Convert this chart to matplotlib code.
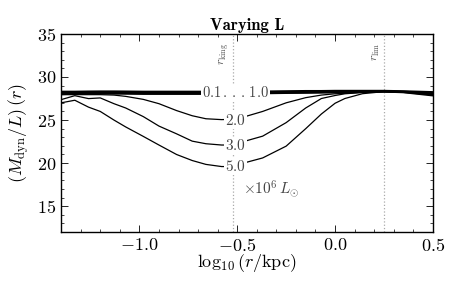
import numpy as np
import matplotlib
matplotlib.use("Agg")
import matplotlib.pyplot as plt
from matplotlib.ticker import MultipleLocator

plt.rcParams["font.family"] = "serif"
plt.rcParams["font.serif"] = ["cmr10", "DejaVu Serif"]
plt.rcParams["mathtext.fontset"] = "cm"
plt.rcParams["axes.formatter.use_mathtext"] = True
plt.rcParams["axes.unicode_minus"] = True

# log10(r/kpc) grid
log_r = [-1.4, -1.33, -1.26, -1.2, -1.13, -1.07, -0.98, -0.9, -0.81, -0.73, -0.66, -0.58,
         -0.5, -0.46, -0.37, -0.25, -0.15, -0.07, 0.0, 0.05, 0.14, 0.25, 0.35, 0.5]

# M_dyn/L for L = 0.1 ... 1.0 (x 10^6 Lsun), nearly identical
ml_01 = [28.30, 28.30, 28.32, 28.33, 28.33, 28.32, 28.30, 28.30, 28.30, 28.30, 28.30, 28.30,
         28.30, 28.30, 28.32, 28.35, 28.38, 28.38, 28.40, 28.40, 28.40, 28.40, 28.35, 28.25]
ml_02 = [28.20, 28.22, 28.25, 28.25, 28.25, 28.24, 28.22, 28.22, 28.22, 28.22, 28.22, 28.22,
         28.22, 28.22, 28.25, 28.28, 28.30, 28.32, 28.33, 28.33, 28.35, 28.35, 28.30, 28.10]
ml_05 = [28.10, 28.12, 28.15, 28.15, 28.15, 28.14, 28.12, 28.12, 28.12, 28.12, 28.12, 28.12,
         28.12, 28.14, 28.17, 28.20, 28.22, 28.24, 28.25, 28.27, 28.30, 28.32, 28.25, 27.95]
ml_10 = [28.00, 28.05, 28.08, 28.08, 28.06, 28.05, 28.03, 28.03, 28.03, 28.03, 28.03, 28.03,
         28.03, 28.05, 28.10, 28.14, 28.16, 28.18, 28.20, 28.23, 28.27, 28.30, 28.22, 27.85]
ml_20 = [27.95, 27.95, 27.95, 27.95, 27.90, 27.75, 27.40, 26.90, 26.10, 25.50, 25.15, 25.05,
         25.10, 25.40, 26.00, 27.00, 27.60, 27.90, 28.05, 28.10, 28.22, 28.30, 28.25, 28.00]
ml_30 = [27.37, 27.83, 27.49, 27.57, 26.90, 26.40, 25.40, 24.30, 23.40, 22.55, 22.25, 22.10,
         22.10, 22.55, 23.13, 24.70, 26.40, 27.50, 27.85, 28.05, 28.20, 28.30, 28.25, 28.00]
ml_50 = [27.00, 27.30, 26.50, 26.00, 25.00, 24.20, 23.10, 22.10, 21.00, 20.30, 19.85, 19.60,
         19.60, 20.05, 20.60, 21.97, 24.00, 25.70, 26.95, 27.50, 28.06, 28.30, 28.25, 28.00]

bundle = [ml_01, ml_02, ml_05, ml_10]
r_king = -0.52
r_lim = 0.25

fig = plt.figure(figsize=(4.63, 2.90), dpi=100)
ax = fig.add_axes([0.132, 0.2, 0.803, 0.683])

for ml in bundle:
    ax.plot(log_r, ml, color="black", lw=1.4, zorder=2)
for ml in [ml_20, ml_30, ml_50]:
    ax.plot(log_r, ml, color="black", lw=0.9, zorder=2)

# vertical markers for the radii
ax.axvline(r_king, color="#aaaaaa", ls=":", lw=0.9, zorder=1)
ax.axvline(r_lim, color="#aaaaaa", ls=":", lw=0.9, zorder=1)
ax.text(r_king - 0.01, 34.0, r"$r_{\rm king}$", rotation=90, ha="right", va="top",
        fontsize=8.5, color="#555555")
ax.text(r_lim - 0.01, 34.0, r"$r_{\rm lim}$", rotation=90, ha="right", va="top",
        fontsize=8.5, color="#555555")

# inline labels, like clabel
box = dict(facecolor="white", edgecolor="none", pad=0.8)
lab_x = -0.51
ax.text(lab_x, 28.2, r"$0.1\,.\,.\,.\,1.0$", ha="center", va="center", fontsize=10.5,
        color="#444444", bbox=box, zorder=3)
ax.text(lab_x, 25.0, r"$2.0$", ha="center", va="center", fontsize=11,
        color="#444444", bbox=box, zorder=3)
ax.text(lab_x, 22.0, r"$3.0$", ha="center", va="center", fontsize=11,
        color="#444444", bbox=box, zorder=3)
ax.text(lab_x, 19.6, r"$5.0$", ha="center", va="center", fontsize=11,
        color="#444444", bbox=box, zorder=3)
ax.text(-0.47, 17.0, r"$\times 10^6\, L_{\odot}$", ha="left", va="center", fontsize=11,
        color="#444444")

ax.set_xlim(-1.4, 0.5)
ax.set_ylim(12, 35)
ax.xaxis.set_minor_locator(MultipleLocator(0.1))
ax.yaxis.set_minor_locator(MultipleLocator(1))
ax.set_xticks([-1.0, -0.5, 0.0, 0.5])
ax.set_xticklabels([r"$-1.0$", r"$-0.5$", r"$0.0$", r"$0.5$"])
ax.set_yticks([15, 20, 25, 30, 35])
ax.set_yticklabels([r"$15$", r"$20$", r"$25$", r"$30$", r"$35$"])
ax.tick_params(which="both", direction="in", top=True, right=True, labelsize=13)
ax.tick_params(which="major", length=5, width=0.6)
ax.tick_params(which="minor", length=2.5, width=0.5)
for s in ax.spines.values():
    s.set_linewidth(1.0)

ax.set_xlabel(r"$\log_{10}\left(r/{\rm kpc}\right)$", fontsize=13, labelpad=-1)
ax.set_ylabel(r"$\left(M_{\rm dyn}/L\right)\,(r)$", fontsize=13, labelpad=4)
ax.set_title("Varying L", fontsize=12, fontfamily="cmb10", pad=3)

fig.savefig("out.png", dpi=100)
